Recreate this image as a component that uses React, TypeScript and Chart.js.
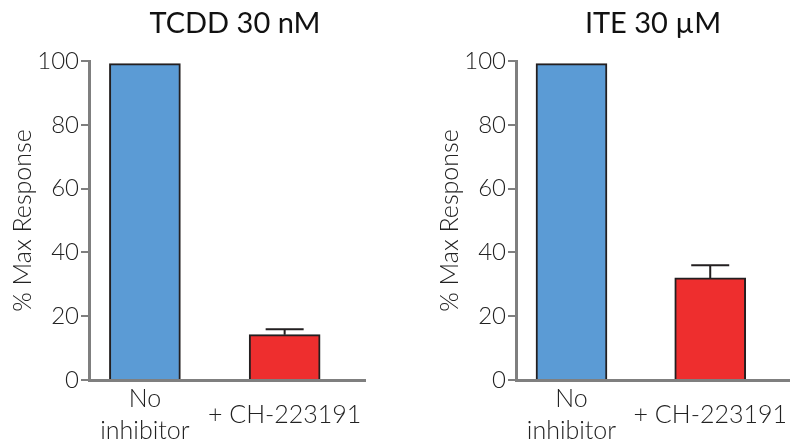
import React, { useEffect, useRef } from 'react';
import { Chart, registerables } from 'chart.js';

Chart.register(...registerables);

// ---- data ----
const categories: string[][] = [['No', 'inhibitor'], ['+ CH-223191']];
const tcddValues = [99.2, 14.2];
const tcddErrors = [0, 1.7];
const iteValues = [99.2, 32];
const iteErrors = [0, 4];
const yTickValues = [0, 20, 40, 60, 80, 100];
const barColors = ['#5B9BD5', '#EE2E2E'];
const panelTitles = ['TCDD 30 nM', 'ITE 30 \u00B5M'];
const yAxisTitle = '% Max Response';

const AXIS_GREY = '#7f7f7f';
const INK = '#231f20';

function makeErrorPlugin(values: number[], errors: number[]) {
  return {
    id: 'errorBars',
    afterDatasetsDraw(chart: any) {
      const meta = chart.getDatasetMeta(0);
      const y = chart.scales.y;
      const ctx = chart.ctx;
      ctx.save();
      ctx.strokeStyle = INK;
      ctx.lineWidth = 2;
      meta.data.forEach((bar: any, i: number) => {
        const e = errors[i];
        if (!e) return;
        const yBase = y.getPixelForValue(values[i]);
        const yTop = y.getPixelForValue(values[i] + e);
        const cap = 38;
        ctx.beginPath();
        ctx.moveTo(bar.x, yBase);
        ctx.lineTo(bar.x, yTop);
        ctx.moveTo(bar.x - cap / 2, yTop);
        ctx.lineTo(bar.x + cap / 2, yTop);
        ctx.stroke();
      });
      ctx.restore();
    },
  };
}

function makeTitlePlugin(text: string, x: number, y: number) {
  return {
    id: 'panelTitle',
    afterDraw(chart: any) {
      const ctx = chart.ctx;
      ctx.save();
      ctx.font = '400 29px Lato';
      ctx.fillStyle = '#111';
      ctx.textAlign = 'center';
      ctx.textBaseline = 'alphabetic';
      ctx.fillText(text, x, y);
      ctx.restore();
    },
  };
}

type PanelProps = {
  title: string;
  values: number[];
  errors: number[];
  left: number;
  width: number;
  padRight: number;
  titleX: number;
};

function Panel({ title, values, errors, left, width, padRight, titleX }: PanelProps) {
  const ref = useRef<HTMLCanvasElement | null>(null);
  useEffect(() => {
    if (!ref.current) return;
    const yTickFont = { family: 'Lato', size: 24, weight: 300 as any, lineHeight: 1.333 };
    const xTickFont = { family: 'Lato', size: 25, weight: 300 as any, lineHeight: 1.28 };
    const chart = new Chart(ref.current, {
      type: 'bar',
      data: {
        datasets: [
          {
            data: values.map((v, i) => ({ x: i, y: v })),
            backgroundColor: barColors,
            borderColor: INK,
            borderWidth: 2,
            barThickness: 71,
          } as any,
        ],
      },
      options: {
        animation: false,
        responsive: false,
        layout: { padding: { top: 61, right: padRight, left: 0, bottom: 0 } },
        plugins: { legend: { display: false }, tooltip: { enabled: false } },
        scales: {
          x: {
            type: 'linear',
            offset: false,
            grace: 0,
            bounds: 'data',
            min: -0.4,
            max: 1.575,
            grid: { display: false, drawTicks: false, offset: false },
            border: { display: true, color: AXIS_GREY, width: 3 },
            afterBuildTicks: (s: any) => {
              s.ticks = categories.map((_, i) => ({ value: i }));
            },
            afterFit: (s: any) => {
              s.height = 61;
              s.paddingLeft = 0;
              s.paddingRight = 0;
            },
            ticks: {
              font: xTickFont,
              color: '#222',
              padding: 19,
              crossAlign: 'center',
              maxRotation: 0,
              autoSkip: false,
              callback: (v: any) => categories[Math.round(Number(v))] ?? '',
            },
          } as any,
          y: {
            min: 0,
            max: 100,
            afterBuildTicks: (s: any) => {
              s.ticks = yTickValues.map((v) => ({ value: v }));
            },
            afterFit: (s: any) => {
              s.width = 89;
              s.paddingTop = 0;
              s.paddingBottom = 0;
            },
            grid: {
              display: true,
              drawOnChartArea: false,
              drawTicks: true,
              tickLength: 8,
              color: AXIS_GREY,
              lineWidth: 2,
            },
            border: { display: true, color: AXIS_GREY, width: 3 },
            ticks: { font: yTickFont, color: '#222', padding: 2 },
            title: {
              display: true,
              text: yAxisTitle,
              color: '#222',
              font: { family: 'Lato', size: 25, weight: 300 as any, lineHeight: 1.2 },
              padding: { top: 8, bottom: 0 },
            },
          } as any,
        },
      },
      plugins: [makeErrorPlugin(values, errors), makeTitlePlugin(title, titleX, 33)],
    });
    return () => chart.destroy();
  }, [title, values, errors, left, width, padRight, titleX]);

  return (
    <canvas
      ref={ref}
      width={width}
      height={441}
      style={{ position: 'absolute', left, top: 0, width, height: 441, display: 'block' }}
    />
  );
}

export default function App() {
  return (
    <div style={{ position: 'absolute', left: 0, top: 0, width: 790, height: 441, background: '#fff' }}>
      <Panel title={panelTitles[0]} values={tcddValues} errors={tcddErrors} left={0} width={380} padRight={15} titleX={235} />
      <Panel title={panelTitles[1]} values={iteValues} errors={iteErrors} left={427} width={363} padRight={0} titleX={226} />
    </div>
  );
}
